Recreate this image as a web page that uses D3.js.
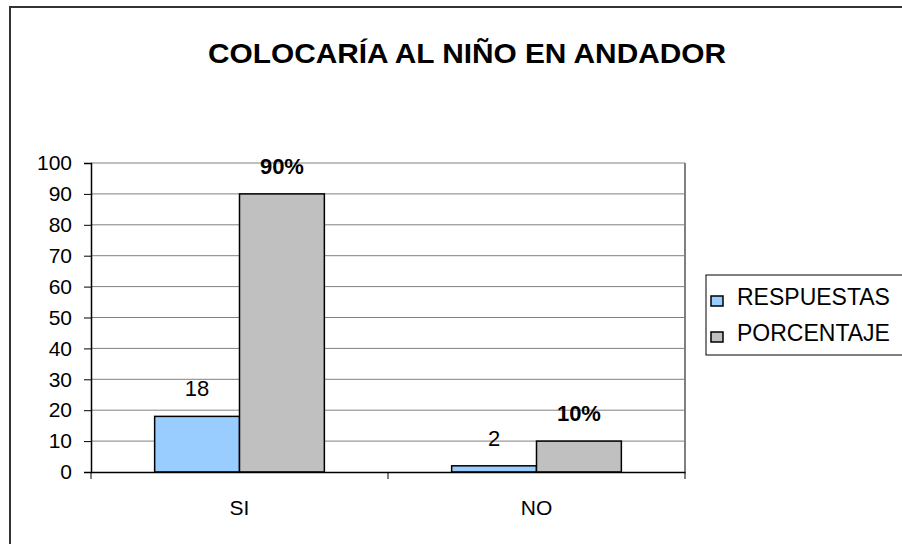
<!DOCTYPE html>
<html>
<head>
<meta charset="utf-8">
<script src="https://cdn.jsdelivr.net/npm/d3@7"></script>
<style>
  body { margin: 0; background: #fff; }
  svg { display: block; font-family: "Liberation Sans", Arial, sans-serif; }
</style>
</head>
<body>
<div id="chart"></div>
<script>
const categories = ["SI", "NO"]
const seriesNames = ["RESPUESTAS", "PORCENTAJE"]
const respuestas = [18, 2]
const porcentaje = [90, 10]
const yTicks = [0, 10, 20, 30, 40, 50, 60, 70, 80, 90, 100]
const title = "COLOCARÍA AL NIÑO EN ANDADOR"

const width = 902
const height = 544
const plot = {left: 91, top: 163, right: 685, bottom: 472}
const colors = ["#99ccff", "#c0c0c0"]

const svg = d3.select("#chart")
  .append("svg")
  .attr("width", width)
  .attr("height", height)

// outer chart frame (runs off the right and bottom)
svg.append("rect")
  .attr("x", 10).attr("y", 7)
  .attr("width", 1000).attr("height", 1000)
  .attr("fill", "white")
  .attr("stroke", "#333").attr("stroke-width", 2)

svg.append("text")
  .attr("x", 467).attr("y", 63)
  .attr("text-anchor", "middle")
  .attr("textLength", 518).attr("lengthAdjust", "spacingAndGlyphs")
  .style("font-size", "28px").style("font-weight", "bold")
  .text(title)

const y = d3.scaleLinear().domain([0, 100]).range([plot.bottom, plot.top])
const x0 = d3.scaleBand().domain(categories).range([plot.left, plot.right])
const x1 = d3.scaleBand().domain(seriesNames).range([0, x0.bandwidth()])
  .paddingInner(0).paddingOuter(0.75)

// gridlines
svg.append("g")
  .selectAll("line")
  .data(yTicks.filter(d => d > 0))
  .join("line")
  .attr("x1", plot.left).attr("x2", plot.right)
  .attr("y1", d => y(d)).attr("y2", d => y(d))
  .attr("stroke", "#808080").attr("stroke-width", 1)

// right border of plot area
svg.append("line")
  .attr("x1", plot.right).attr("x2", plot.right)
  .attr("y1", plot.top).attr("y2", plot.bottom)
  .attr("stroke", "#808080").attr("stroke-width", 2)

const rows = categories.map((c, i) => ({cat: c, vals: [
  {s: seriesNames[0], v: respuestas[i], label: String(respuestas[i]), bold: false},
  {s: seriesNames[1], v: porcentaje[i], label: porcentaje[i] + "%", bold: true}
]}))

const group = svg.append("g")
  .selectAll("g")
  .data(rows)
  .join("g")
  .attr("transform", d => `translate(${x0(d.cat)},0)`)

group.selectAll("rect")
  .data(d => d.vals)
  .join("rect")
  .attr("x", d => x1(d.s))
  .attr("y", d => y(d.v))
  .attr("width", x1.bandwidth())
  .attr("height", d => y(0) - y(d.v))
  .attr("fill", (d, i) => colors[i])
  .attr("stroke", "#000").attr("stroke-width", 1.5)

group.selectAll("text")
  .data(d => d.vals)
  .join("text")
  .attr("x", d => x1(d.s) + x1.bandwidth() / 2)
  .attr("y", d => y(d.v) - 20)
  .attr("text-anchor", "middle")
  .style("font-size", "22px")
  .style("font-weight", d => d.bold ? "bold" : "normal")
  .text(d => d.label)

// y axis
const yAxis = svg.append("g")
  .attr("transform", `translate(${plot.left},0)`)
  .call(d3.axisLeft(y).tickValues(yTicks).tickSize(7).tickPadding(12))
yAxis.select(".domain").attr("stroke", "#000").attr("stroke-width", 1.5)
yAxis.selectAll(".tick line").attr("stroke", "#000")
yAxis.selectAll("text").style("font-size", "21px").attr("fill", "#000")
  .attr("font-family", null)

// x axis
const xAxis = svg.append("g")
  .attr("transform", `translate(0,${plot.bottom})`)
  .call(d3.axisBottom(x0).tickSize(0).tickPadding(28))
xAxis.select(".domain").attr("stroke", "#000").attr("stroke-width", 1.5)
xAxis.selectAll("text").style("font-size", "21px").attr("fill", "#000")
  .attr("font-family", null)
xAxis.selectAll(".sep")
  .data([plot.left, x0("NO"), plot.right])
  .join("line")
  .attr("x1", d => d).attr("x2", d => d)
  .attr("y1", 0).attr("y2", 7)
  .attr("stroke", "#000")

// legend
const legend = svg.append("g")
legend.append("rect")
  .attr("x", 706).attr("y", 275)
  .attr("width", 300).attr("height", 80)
  .attr("fill", "white")
  .attr("stroke", "#000").attr("stroke-width", 1)

const item = legend.selectAll(".item")
  .data(seriesNames)
  .join("g")
  .attr("class", "item")
  .attr("transform", (d, i) => `translate(711,${305 + i * 36})`)
item.append("rect")
  .attr("x", 0).attr("y", -9)
  .attr("width", 12).attr("height", 10)
  .attr("fill", (d, i) => colors[i])
  .attr("stroke", "#000").attr("stroke-width", 1.5)
item.append("text")
  .attr("x", 26).attr("y", 0)
  .style("font-size", "23px")
  .text(d => d)
</script>
</body>
</html>
